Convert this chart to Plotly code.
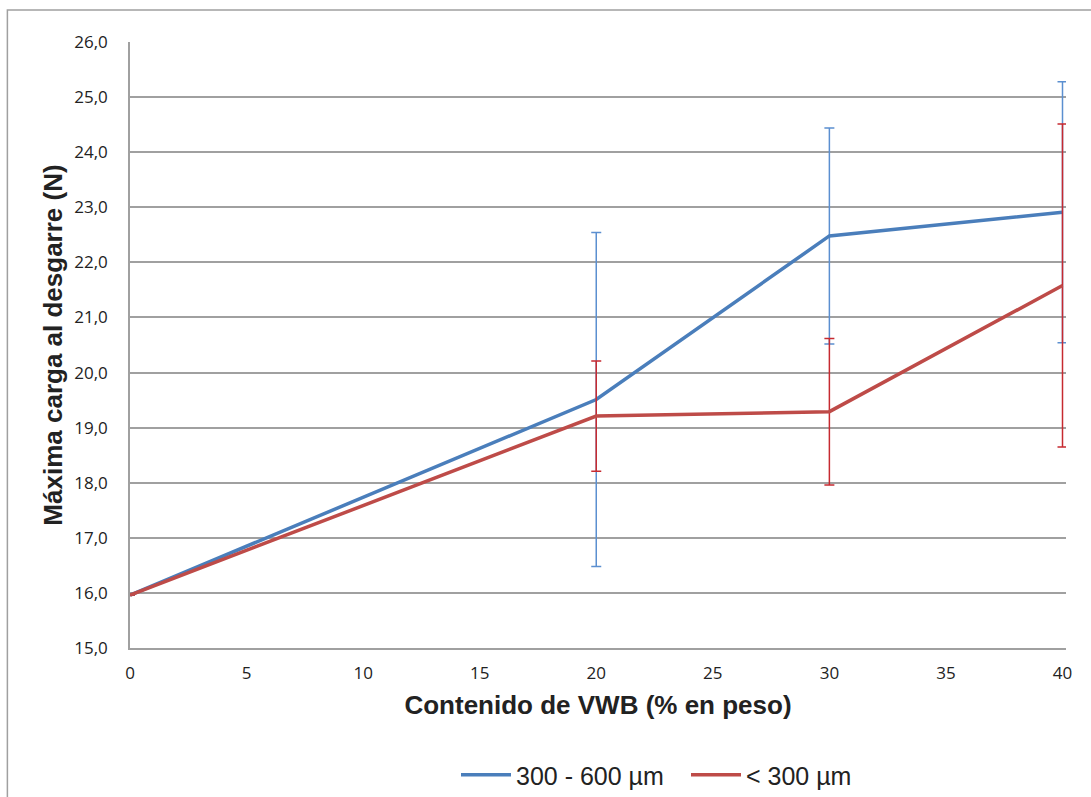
import plotly.graph_objects as go

x_vals = [0, 20, 30, 40]
blue_y = [15.96, 19.51, 22.48, 22.91]
blue_err = [0, 3.03, 1.96, 2.37]
red_y = [15.96, 19.21, 19.29, 21.58]
red_err = [0, 1.0, 1.33, 2.93]
series_names = ["300 - 600 µm", "< 300 µm"]

fig = go.Figure()
fig.add_trace(go.Scatter(
    x=x_vals, y=blue_y, mode="lines", name=series_names[0], cliponaxis=False,
    line=dict(color="#4A7EBB", width=3.5),
    error_y=dict(type="data", array=blue_err, visible=True, color="#5B8FD0", thickness=1.5, width=5),
))
fig.add_trace(go.Scatter(
    x=x_vals, y=red_y, mode="lines", name=series_names[1], cliponaxis=False,
    line=dict(color="#BE4B48", width=3.5),
    error_y=dict(type="data", array=red_err, visible=True, color="#C62A30", thickness=1.5, width=5),
))

fig.update_layout(
    width=1091, height=797,
    margin=dict(l=130, r=25, t=42, b=149, autoexpand=False),
    paper_bgcolor="white", plot_bgcolor="white",
    separators=",.",
    font=dict(family="Liberation Sans, Arial", color="#222222"),
    showlegend=True,
    legend=dict(orientation="h", xref="container", yref="container",
                x=456 / 1091, xanchor="left", y=(797 - 775) / 797, yanchor="middle",
                font=dict(size=25, family="Liberation Sans, Arial"), itemwidth=50,
                entrywidth=165, entrywidthmode="pixels", bgcolor="rgba(0,0,0,0)"),
    xaxis=dict(range=[0, 40.15], tickvals=[0, 5, 10, 15, 20, 25, 30, 35, 40],
               showgrid=False, showline=True, linecolor="#A0A0A0", linewidth=1.5,
               ticks="", ticklabelstandoff=9, automargin=False,
               tickfont=dict(size=17, family="Open Sans, Liberation Sans"),
               title=dict(text="<b>Contenido de VWB (% en peso)</b>", font=dict(size=26), standoff=13),
               zeroline=False),
    yaxis=dict(range=[15, 26], dtick=1, tickformat=".1f",
               showgrid=True, gridcolor="#A0A0A0", gridwidth=1.5,
               showline=True, linecolor="#A0A0A0", linewidth=1.5,
               ticks="", ticklabelstandoff=17, automargin=False,
               tickfont=dict(size=17, family="Open Sans, Liberation Sans"),
               title=dict(text="<b>Máxima carga al desgarre (N)</b>", font=dict(size=26), standoff=4),
               zeroline=False),
    shapes=[dict(type="rect", xref="paper", yref="paper",
                 x0=-0.131, x1=1.2, y0=-0.4, y1=1.0528,
                 line=dict(color="#A0A0A0", width=1.5), layer="below")],
)

fig.write_html("out.html")
